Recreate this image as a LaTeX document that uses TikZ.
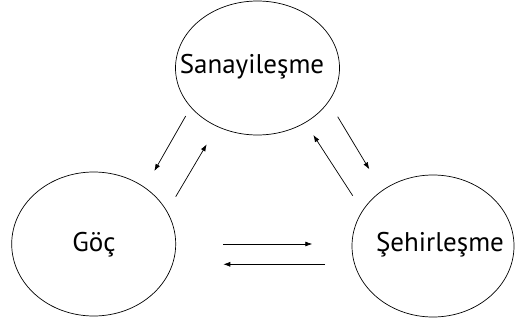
\documentclass[tikz,border=0pt]{standalone}
\usepackage{fontspec}
\setmainfont{PT Sans}
\usetikzlibrary{shapes.geometric,arrows.meta}
\begin{document}
\begin{tikzpicture}[x=1pt,y=1pt,
  bubble/.style={ellipse,draw,line width=0.7pt,inner sep=0pt,font=\fontsize{27}{30}\selectfont},
  link/.style={line width=0.7pt,-{Latex[length=7pt,width=5pt]}}]
\useasboundingbox (0,0) rectangle (521,322);
\node[bubble,minimum width=164pt,minimum height=134pt] (S) at (257.5,254) {};
\node[font=\fontsize{27}{30}\selectfont] (St) at (252,255) {Sanayileşme};
\node[bubble,minimum width=164pt,minimum height=144pt] (G) at (93.7,78) {};
\node[font=\fontsize{27}{30}\selectfont] (Gt) at (94,77) {Göç};
\node[bubble,minimum width=162pt,minimum height=142pt] (H) at (433,76) {};
\node[font=\fontsize{27}{30}\selectfont] (Ht) at (440,77) {Şehirleşme};
\coordinate (a1) at (185.7,206);
\coordinate (a2) at (154.3,151);
\coordinate (b1) at (175.7,125.3);
\coordinate (b2) at (206.7,177.7);
\coordinate (c1) at (337.7,205.3);
\coordinate (c2) at (369.3,152.7);
\coordinate (d1) at (352.7,126.3);
\coordinate (d2) at (313.3,187);
\coordinate (e1) at (223.3,78);
\coordinate (e2) at (312.3,78);
\coordinate (f1) at (325,57.7);
\coordinate (f2) at (223.3,57.7);
\draw[link] (a1) -- (a2);
\draw[link] (b1) -- (b2);
\draw[link] (c1) -- (c2);
\draw[link] (d1) -- (d2);
\draw[link] (e1) -- (e2);
\draw[link] (f1) -- (f2);
\end{tikzpicture}
\end{document}
